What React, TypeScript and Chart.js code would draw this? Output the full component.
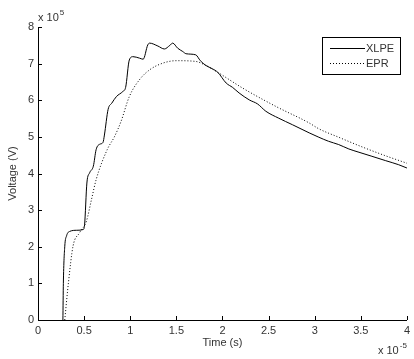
import React, { useEffect, useRef } from "react";
import { Chart, registerables } from "chart.js";

Chart.register(...registerables);

// time in units of 1e-5 s, voltage in units of 1e5 V
const xlpeTime = [0.27, 0.275, 0.29, 0.31, 0.345, 0.42, 0.49, 0.505, 0.53, 0.56, 0.6, 0.63, 0.67, 0.705, 0.72, 0.76, 0.8, 0.85, 0.92, 0.95, 0.99, 1.03, 1.1, 1.14, 1.19, 1.21, 1.3, 1.37, 1.43, 1.46, 1.515, 1.57, 1.605, 1.71, 1.76, 1.82, 1.89, 1.95, 2.04, 2.11, 2.18, 2.29, 2.38, 2.47, 2.61, 2.76, 2.94, 3.045, 3.15, 3.26, 3.37, 3.48, 3.62, 3.77, 3.91, 4.0];
const xlpeVolt = [0, 1.0, 2.0, 2.3, 2.42, 2.45, 2.47, 2.6, 3.74, 4.02, 4.2, 4.65, 4.8, 4.85, 5.05, 5.75, 5.92, 6.1, 6.24, 6.35, 7.1, 7.19, 7.15, 7.12, 7.51, 7.56, 7.48, 7.4, 7.5, 7.56, 7.42, 7.33, 7.27, 7.24, 7.08, 6.95, 6.86, 6.76, 6.47, 6.35, 6.2, 6.01, 5.9, 5.7, 5.51, 5.33, 5.11, 4.99, 4.88, 4.79, 4.67, 4.58, 4.47, 4.35, 4.24, 4.15];

const eprTime = [0.29, 0.33, 0.38, 0.45, 0.525, 0.58, 0.63, 0.75, 0.83, 0.9, 0.99, 1.1, 1.21, 1.35, 1.5, 1.71, 1.82, 1.95, 2.22, 2.58, 2.94, 3.045, 3.26, 3.5, 3.75, 4.0];
const eprVolt = [0, 1.02, 2.02, 2.38, 2.7, 3.29, 3.83, 4.65, 5.01, 5.42, 6.1, 6.56, 6.83, 7.01, 7.08, 7.06, 6.95, 6.76, 6.33, 5.83, 5.38, 5.22, 4.99, 4.74, 4.5, 4.28];

const xTicks = [0, 0.5, 1, 1.5, 2, 2.5, 3, 3.5, 4];
const yTicks = [0, 1, 2, 3, 4, 5, 6, 7, 8];
const seriesNames = ["XLPE", "EPR"];

const FONT = "'Liberation Sans', Arial, sans-serif";
const TXT = "#333";

const decorPlugin = {
  id: "decor",
  afterDraw(chart: any) {
    const ctx = chart.ctx;
    const { left, right, top, bottom } = chart.chartArea;
    const xs = chart.scales.x;
    const ys = chart.scales.y;
    ctx.save();
    ctx.strokeStyle = "#000";
    ctx.lineWidth = 1;
    ctx.beginPath();
    xTicks.forEach((t) => {
      const px = Math.round(xs.getPixelForValue(t)) + 0.5;
      ctx.moveTo(px, bottom);
      ctx.lineTo(px, bottom - 4);
    });
    yTicks.forEach((t) => {
      const py = Math.round(ys.getPixelForValue(t)) + 0.5;
      ctx.moveTo(left, py);
      ctx.lineTo(left + 4, py);
    });
    ctx.stroke();

    // exponent labels
    ctx.fillStyle = TXT;
    ctx.textBaseline = "alphabetic";
    ctx.textAlign = "left";
    ctx.font = `11px ${FONT}`;
    ctx.fillText("x 10", left, top - 6);
    const w1 = ctx.measureText("x 10").width;
    ctx.font = `8px ${FONT}`;
    ctx.fillText("5", left + w1 + 1, top - 12);

    ctx.font = `11px ${FONT}`;
    ctx.fillText("x 10", right - 29, bottom + 34);
    const w2 = ctx.measureText("x 10").width;
    ctx.font = `8px ${FONT}`;
    ctx.fillText("-5", right - 29 + w2 + 1, bottom + 28);

    // legend
    const lx = 322, ly = 37, lw = 78, lh = 37;
    ctx.fillStyle = "#fff";
    ctx.fillRect(lx, ly, lw, lh);
    ctx.strokeStyle = "#000";
    ctx.strokeRect(lx + 0.5, ly + 0.5, lw, lh);
    ctx.beginPath();
    ctx.moveTo(lx + 8, ly + 11.5);
    ctx.lineTo(lx + 43, ly + 11.5);
    ctx.stroke();
    ctx.setLineDash([1, 2]);
    ctx.beginPath();
    ctx.moveTo(lx + 8, ly + 26.5);
    ctx.lineTo(lx + 43, ly + 26.5);
    ctx.stroke();
    ctx.setLineDash([]);
    ctx.fillStyle = TXT;
    ctx.font = `11px ${FONT}`;
    ctx.textBaseline = "middle";
    ctx.fillText(seriesNames[0], lx + 44, ly + 12);
    ctx.fillText(seriesNames[1], lx + 44, ly + 27);
    ctx.restore();
  },
};

export default function App() {
  const ref = useRef<HTMLCanvasElement>(null);
  useEffect(() => {
    if (!ref.current) return;
    const chart = new Chart(ref.current, {
      type: "line",
      data: {
        datasets: [
          {
            label: seriesNames[0],
            data: xlpeTime.map((t, i) => ({ x: t, y: xlpeVolt[i] })),
            borderColor: "#000",
            borderWidth: 1,
            pointRadius: 0,
            cubicInterpolationMode: "monotone",
            fill: false,
          },
          {
            label: seriesNames[1],
            data: eprTime.map((t, i) => ({ x: t, y: eprVolt[i] })),
            borderColor: "#000",
            borderWidth: 1,
            borderDash: [1, 2],
            pointRadius: 0,
            cubicInterpolationMode: "monotone",
            fill: false,
          },
        ],
      },
      options: {
        animation: false,
        responsive: false,
        maintainAspectRatio: false,
        layout: { padding: { top: 27, right: 6, left: 0, bottom: 0 } },
        plugins: { legend: { display: false }, tooltip: { enabled: false } },
        scales: {
          x: {
            type: "linear",
            min: 0,
            max: 4,
            afterFit: (s: any) => { s.height = 39; },
            afterBuildTicks: (s: any) => { s.ticks = xTicks.map((v) => ({ value: v })); },
            grid: { display: false, drawTicks: false },
            border: { display: true, color: "#000", width: 1 },
            ticks: {
              padding: 4,
              color: TXT,
              font: { family: FONT, size: 11 },
              maxRotation: 0,
              autoSkip: false,
              callback: (v: any) => String(v),
            },
            title: {
              display: true,
              text: "Time (s)",
              color: TXT,
              font: { family: FONT, size: 11 },
              padding: { top: 0, bottom: 9 },
            },
          },
          y: {
            type: "linear",
            min: 0,
            max: 8,
            afterFit: (s: any) => { s.width = 38; },
            afterBuildTicks: (s: any) => { s.ticks = yTicks.map((v) => ({ value: v })); },
            grid: { display: false, drawTicks: false },
            border: { display: true, color: "#000", width: 1 },
            ticks: {
              padding: 4,
              color: TXT,
              font: { family: FONT, size: 11 },
              autoSkip: false,
              callback: (v: any) => String(v),
            },
            title: {
              display: true,
              text: "Voltage (V)",
              color: TXT,
              font: { family: FONT, size: 11 },
              padding: { top: 6, bottom: 0 },
            },
          },
        },
      },
      plugins: [decorPlugin],
    } as any);
    return () => chart.destroy();
  }, []);
  return (
    <div style={{ position: "fixed", left: 0, top: 0, width: 414, height: 359, background: "#fff" }}>
      <canvas ref={ref} width={414} height={359} style={{ display: "block" }} />
    </div>
  );
}
